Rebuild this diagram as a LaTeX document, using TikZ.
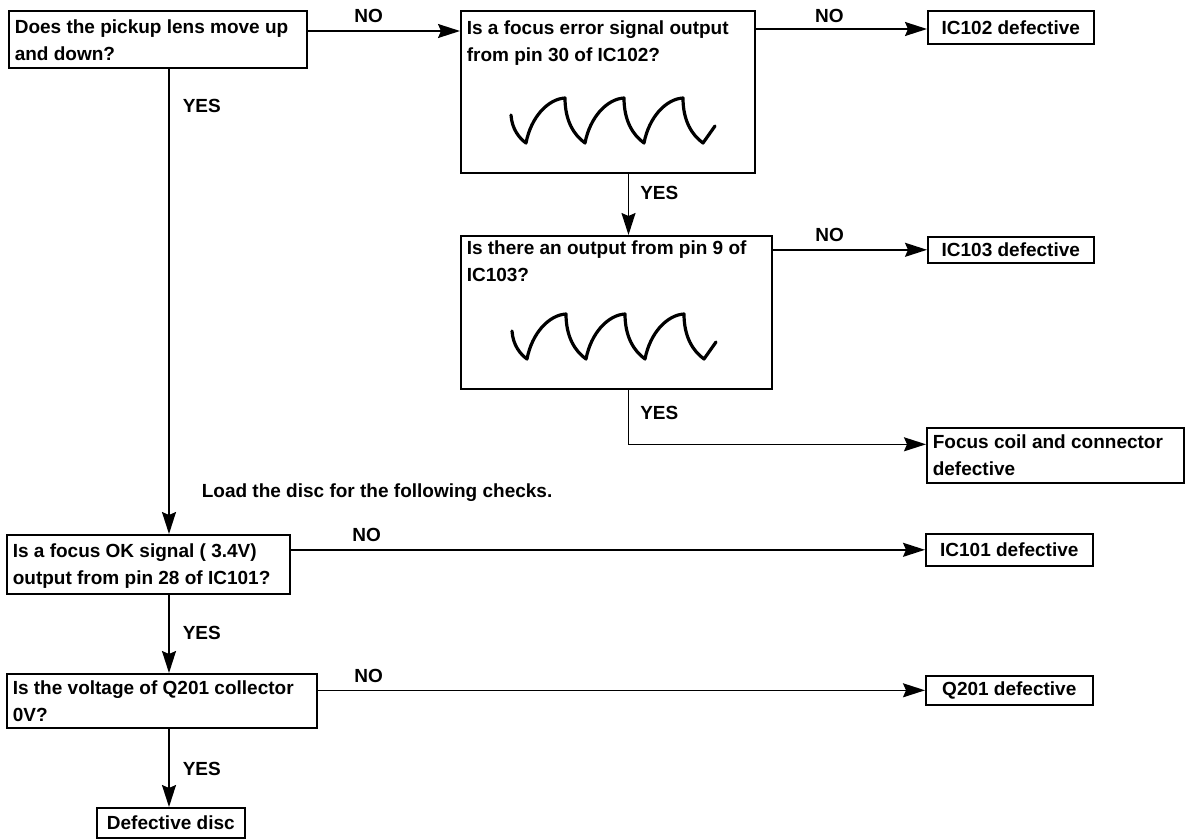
\documentclass[tikz,border=0pt]{standalone}
\usepackage{fontspec}
\setmainfont{Liberation Sans}
\usetikzlibrary{arrows.meta,positioning,calc}
\tikzset{
every picture/.style={
line width=1.6pt
}}
\tikzset{
  chartfont/.style={font=\fontsize{19}{27}\selectfont\bfseries},
  qbox/.style={draw, fill=white, chartfont, anchor=north west, align=flush left,
    inner xsep=6pt, inner ysep=6pt},
  tagbox/.style={draw, fill=white, chartfont, anchor=north west, inner sep=0pt},
  lbl/.style={chartfont, inner sep=2pt},
  arr/.style={-{Stealth[length=22pt,width=14pt,inset=3pt]}},
  wavepen/.style={line width=3.2pt, line join=round, line cap=round},
  focuswave/.pic={
    \draw[wavepen] (-15,-28) .. controls (-14,-14) and (-7,-5) .. (0,0)
      \foreach \k in {0,1,2} {
        .. controls ({59*\k+5},-26) and ({59*\k+22},-44) .. ({59*\k+39},-45)
        .. controls ({59*\k+39},-22) and ({59*\k+48},-8) .. ({59*\k+59},0)
      }
      -- (189,-17);
  }
}
\begin{document}
\begin{tikzpicture}[x=1pt,y=-1pt]
  \useasboundingbox (0,0) rectangle (1192,839);

  % questions
  \node[qbox, text width=286pt, text height=17pt, text depth=28pt] (pickup) at (8,10) {Does the pickup lens move up\\and down?};
  \node[qbox, text width=282pt, text height=18pt, text depth=132pt] (ferr) at (460,10) {Is a focus error signal output\\from pin 30 of IC102?};
  \node[qbox, text width=299pt, text height=13pt, text depth=128pt] (pin9) at (460,235) {Is there an output from pin 9 of\\IC103?};
  \node[qbox, text width=271pt, text height=17pt, text depth=30pt] (fok) at (6,534) {Is a focus OK signal ( 3.4V)\\output from pin 28 of IC101?};
  \node[qbox, text width=298pt, text height=15pt, text depth=27pt] (q201v) at (6,673) {Is the voltage of Q201 collector\\0V?};

  % results
  \node[tagbox, minimum width=166pt, minimum height=33pt] (ic102) at (927,10) {IC102 defective};
  \node[tagbox, minimum width=166pt, minimum height=26pt] (ic103) at (927,236) {IC103 defective};
  \node[qbox, text width=245pt, text height=15pt, text depth=28pt] (coil) at (926,427) {Focus coil and connector\\defective};
  \node[tagbox, minimum width=167pt, minimum height=32pt] (ic101) at (925,533) {IC101 defective};
  \node[tagbox, minimum width=167pt, minimum height=29pt] (q201) at (925,675) {Q201 defective};
  \node[tagbox, minimum width=148pt, minimum height=30pt] (disc) at (96,807) {Defective disc};

  % waveforms
  \pic (waveB) at (526,143) {focuswave};
  \pic (waveC) at (527,359) {focuswave};

  \node[lbl, anchor=base west] (loadnote) at (199,497) {Load the disc for the following checks.};

  \coordinate (spine) at (169,0);
  \coordinate (trunk) at (628.5,0);

  \draw[arr] ([yshift=-21pt]pickup.north east) -- node[lbl, above=6pt, pos=0.4] (noA) {NO} ([yshift=-21pt]ferr.north west);
  \draw[arr] ([yshift=-19pt]ferr.north east) -- node[lbl, above=4pt, pos=0.43] (noB) {NO} ([yshift=-19pt]ferr.north east -| ic102.west);
  \draw[arr] (ic103.west -| pin9.east) -- node[lbl, above=5pt, pos=0.37] (noC) {NO} (ic103.west);
  \draw[arr] (ic101.west -| fok.east) -- node[lbl, above=5pt, pos=0.12] (noD) {NO} (ic101.west);
  \draw[arr] (q201.west -| q201v.east) -- node[lbl, above=5pt, pos=0.084] (noE) {NO} (q201.west);

  \draw[arr] (pickup.south -| spine) -- node[lbl, right=11pt, pos=0.081] (yesA) {YES} (fok.north -| spine);
  \draw[arr] (fok.south -| spine) -- node[lbl, right=11pt, pos=0.49] (yesD) {YES} (q201v.north -| spine);
  \draw[arr] (q201v.south -| spine) -- node[lbl, right=11pt, pos=0.51] (yesE) {YES} (disc.north -| spine);
  \draw[arr] (ferr.south -| trunk) -- node[lbl, right=9pt, pos=0.32] (yesB) {YES} (pin9.north -| trunk);
  \draw[arr] (pin9.south -| trunk) |- node[lbl, right=9pt, pos=0.21] (yesC) {YES} ([yshift=11pt]coil.west);
\end{tikzpicture}
\end{document}
